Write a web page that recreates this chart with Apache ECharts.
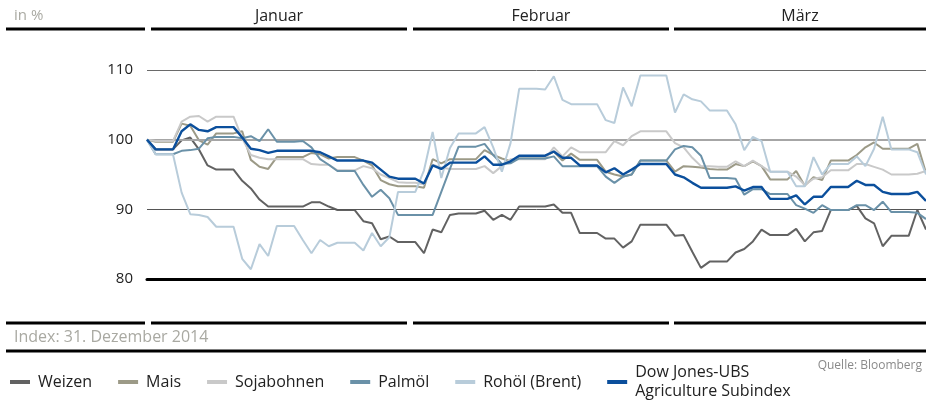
<!DOCTYPE html>
<html><head><meta charset="utf-8">
<script src="https://cdn.jsdelivr.net/npm/echarts/dist/echarts.min.js"></script>
<style>html,body{margin:0;padding:0;background:#fff}#c{width:926px;height:400px}</style>
</head><body><div id="c"></div>
<script>
// ---- data (index, 31. Dezember 2014 = 100) ----
const weizen = [100,98.6,98.6,98.6,99.9,100.3,98.6,96.3,95.7,95.7,
95.7,94.1,93.0,91.4,90.4,90.4,90.4,90.4,90.4,91.0,
91.0,90.4,89.9,89.9,89.9,88.3,88.0,85.7,86.1,85.3,
85.3,85.3,83.7,87.1,86.7,89.2,89.4,89.4,89.4,89.8,
88.5,89.2,88.5,90.4,90.4,90.4,90.4,90.7,89.5,89.5,
86.6,86.6,86.6,85.8,85.8,84.5,85.4,87.8,87.8,87.8,
87.8,86.2,86.3,83.9,81.6,82.5,82.5,82.5,83.8,84.3,
85.4,87.1,86.3,86.3,86.3,87.2,85.4,86.7,86.9,89.9,
89.9,89.9,90.5,88.7,88.0,84.7,86.2,86.2,86.2,89.9,
87.1];
const mais = [100,99.7,99.7,99.7,102.3,102.0,99.9,99.3,100.9,100.9,
100.9,101.2,97.1,96.1,95.8,97.5,97.5,97.5,97.5,98.1,
97.9,97.3,97.5,97.5,97.5,97.0,96.3,94.2,93.6,93.3,
93.3,93.3,93.1,97.2,96.6,97.2,97.2,97.2,97.2,98.5,
97.8,97.3,96.9,97.6,97.6,97.6,97.6,98.3,97.0,98.0,
97.1,97.1,97.1,95.4,95.0,94.7,95.0,97.0,97.0,97.0,
97.0,95.4,96.2,96.1,96.0,95.8,95.7,95.7,96.5,96.2,
96.9,96.2,94.3,94.3,94.3,95.5,93.4,94.6,94.2,97.0,
97.0,97.0,97.8,98.9,99.6,98.7,98.7,98.7,98.7,99.4,
95.2];
const soja = [100,99.8,99.8,99.8,102.6,103.3,103.4,102.6,103.3,103.3,
103.3,100.2,97.8,97.4,97.2,97.2,97.2,97.2,97.2,96.5,
96.4,96.4,95.6,95.6,95.6,96.2,95.9,95.0,94.5,93.9,
93.8,93.8,93.6,96.4,96.0,95.8,95.8,95.8,95.8,96.2,
95.2,96.2,97.2,97.2,97.2,97.2,97.2,98.9,97.6,98.9,
98.2,98.2,98.2,98.2,99.8,99.2,100.5,101.2,101.2,101.2,
101.2,99.5,98.9,97.4,96.2,96.2,96.1,96.1,96.9,96.2,
97.0,96.2,95.4,95.4,95.4,94.7,93.5,94.4,94.6,95.6,
95.6,95.6,96.5,96.5,96.1,95.7,95.0,95.0,95.0,95.1,
95.5];
const palmoel = [100,97.9,97.9,97.9,98.4,98.5,98.7,100.2,100.4,100.4,
100.4,100.2,100.5,99.8,101.5,99.7,99.7,99.7,99.8,98.9,
97.2,96.4,95.5,95.5,95.5,93.5,91.8,92.8,91.6,89.2,
89.2,89.2,89.2,89.2,92.5,95.8,99.0,99.0,99.0,99.4,
97.8,96.5,96.6,97.3,97.3,97.3,97.3,97.6,96.2,96.2,
96.2,96.2,96.2,94.7,93.8,94.7,95.0,97.0,97.0,97.0,
97.0,98.6,99.1,98.9,97.7,94.5,94.5,94.5,94.4,92.1,
92.9,92.9,92.2,92.2,92.2,90.6,90.1,89.5,90.6,89.9,
89.9,89.9,90.6,90.6,89.9,91.1,89.6,89.6,89.6,89.5,
88.6];
const rohoel = [100,97.9,97.9,97.9,92.4,89.3,89.2,88.9,87.5,87.5,
87.5,82.9,81.4,85.0,83.3,87.6,87.6,87.6,85.6,83.7,
85.6,84.7,85.2,85.2,85.2,84.1,86.6,84.7,86.0,92.5,
92.5,92.5,95.6,101.1,94.5,98.8,100.9,100.9,100.9,101.8,
98.9,95.4,99.5,107.3,107.3,107.3,107.2,109.1,105.7,105.1,
105.1,105.1,105.1,102.8,102.4,107.5,104.8,109.2,109.2,109.2,
109.2,103.9,106.5,105.8,105.5,104.2,104.2,104.2,102.2,98.5,
100.4,99.8,95.4,95.4,95.4,93.3,93.3,97.5,95.0,96.5,
96.5,96.5,97.6,96.2,98.7,103.3,98.6,98.6,98.6,98.2,
95.0];
const djubs = [100,98.6,98.6,98.6,101.2,102.2,101.4,101.2,101.8,101.8,
101.8,100.3,98.7,98.5,98.1,98.4,98.4,98.4,98.4,98.4,
98.2,97.6,97.0,97.0,97.0,97.0,96.7,95.7,94.7,94.4,
94.4,94.4,93.7,96.3,95.8,96.7,96.7,96.7,96.7,97.6,
96.4,96.4,96.9,97.7,97.7,97.7,97.7,98.3,97.4,97.4,
96.3,96.3,96.3,95.3,95.9,95.0,95.7,96.5,96.5,96.5,
96.5,95.0,94.6,93.8,93.1,93.1,93.1,93.1,93.3,92.7,
93.2,93.2,91.5,91.5,91.5,92.0,90.7,91.8,91.8,93.2,
93.2,93.2,94.1,93.5,93.5,92.5,92.2,92.2,92.2,92.5,
91.2];
const seriesNames = ['Weizen','Mais','Sojabohnen','Palmöl','Rohöl (Brent)','Dow Jones-UBS Agriculture Subindex'];
const months = ['Januar','Februar','März'];
const yTicks = [80, 90, 100, 110];
// categories: calendar days from 31.12.2014 to 31.03.2015
const days = [];
for (let d = new Date(Date.UTC(2014,11,31)); days.length < weizen.length; d.setUTCDate(d.getUTCDate()+1)) days.push(d.toISOString().slice(0,10));

// ---- styling ----
const FONT = '"Open Sans", "Noto Sans", sans-serif';
const colors = ['#626262','#9c9a87','#c9c9c9','#6a91a8','#b8ccda','#0b4f9c'];
const widths = [2,2,2,2,2,2.4];
const allData = [weizen, mais, soja, palmoel, rohoel, djubs];
const headerSegs = [[6,145],[151,407],[413,669],[674,926]];

const chart = echarts.init(document.getElementById('c'), null, {renderer:'canvas'});
const graphic = [];
headerSegs.forEach(s => {
  graphic.push({type:'line', silent:true, shape:{x1:s[0],y1:29,x2:s[1],y2:29}, style:{stroke:'#000',lineWidth:3}});
  graphic.push({type:'line', silent:true, shape:{x1:s[0],y1:323,x2:s[1],y2:323}, style:{stroke:'#000',lineWidth:3}});
});
months.forEach((m,i) => {
  const s = headerSegs[i+1];
  graphic.push({type:'text', x:(s[0]+s[1])/2, y:16, style:{text:m, fill:'#222', font:'16px '+FONT, align:'center', verticalAlign:'middle'}});
});
graphic.push({type:'line', silent:true, shape:{x1:6,y1:351,x2:926,y2:351}, style:{stroke:'#000',lineWidth:3}});
graphic.push({type:'text', x:14, y:16, style:{text:'in %', fill:'#a9a9a2', font:'15px '+FONT, align:'left', verticalAlign:'middle'}});
graphic.push({type:'text', x:14, y:337, style:{text:'Index: 31. Dezember 2014', fill:'#a9a9a2', font:'16px '+FONT, align:'left', verticalAlign:'middle'}});
graphic.push({type:'text', x:922, y:366, style:{text:'Quelle: Bloomberg', fill:'#8a8a8a', font:'12px '+FONT, align:'right', verticalAlign:'middle'}});

const series = allData.map((d,i) => ({
  name: seriesNames[i], type:'line', data:d, symbol:'none', showSymbol:false,
  lineStyle:{color:colors[i], width:widths[i]}, itemStyle:{color:colors[i]},
  z: 3+i, animation:false, silent:true
}));
series.unshift({
  name:'_grid', type:'line', data:[], z:1, silent:true, animation:false,
  markLine:{symbol:'none', silent:true, animation:false, label:{show:false},
    data:[
      {yAxis:yTicks[3], lineStyle:{color:'#6a6a6a', width:1, type:'solid'}},
      {yAxis:yTicks[2], lineStyle:{color:'#a6a6a6', width:2, type:'solid'}},
      {yAxis:yTicks[1], lineStyle:{color:'#555555', width:1, type:'solid'}}
    ]}
});

chart.setOption({
  animation:false,
  backgroundColor:'#fff',
  textStyle:{fontFamily:FONT},
  grid:{left:147, right:0, top:70, height:209, outerBoundsMode:'none', containLabel:false},
  xAxis:{type:'category', data:days, boundaryGap:false,
    axisLine:{show:true, onZero:false, lineStyle:{color:'#000', width:3}},
    axisTick:{show:false}, axisLabel:{show:false}, splitLine:{show:false}},
  yAxis:{type:'value', min:yTicks[0], max:yTicks[yTicks.length-1], interval:10,
    axisLine:{show:false}, axisTick:{show:false}, splitLine:{show:false},
    axisLabel:{color:'#222', fontSize:15, fontFamily:FONT, margin:14}},
  legend:{show:true, left:5, top:358, orient:'horizontal', icon:'rect', itemWidth:20, itemHeight:4,
    itemGap:26, data:seriesNames, selectedMode:false,
    textStyle:{color:'#222', fontSize:16, fontFamily:FONT, padding:[0,0,0,3], lineHeight:19},
    formatter: n => n === seriesNames[5] ? 'Dow Jones-UBS\nAgriculture Subindex' : n},
  tooltip:{show:false},
  graphic: graphic,
  series: series
});
</script></body></html>
